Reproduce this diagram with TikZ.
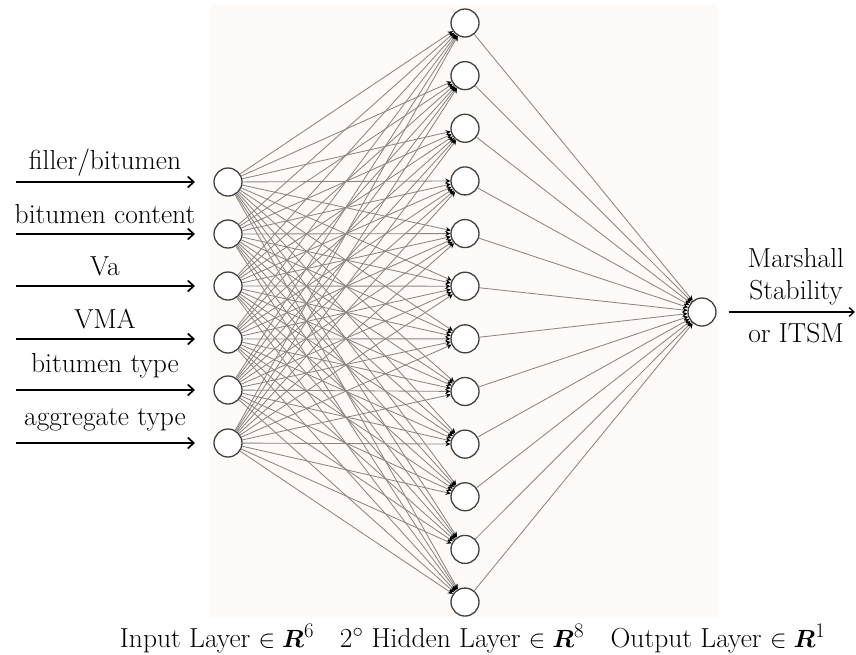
\documentclass[tikz,border=0pt]{standalone}
\usepackage{amsmath,amssymb,bm}
\usetikzlibrary{arrows.meta}
\definecolor{bgc}{HTML}{FDFAF8}
\definecolor{edgec}{HTML}{8C8682}
\begin{document}
\begin{tikzpicture}[x=1pt,y=-1pt,
  neuron/.style={circle,draw=black!75,line width=1.3pt,fill=white,minimum size=28pt,inner sep=0pt},
  edge/.style={draw=edgec,line width=0.85pt,-{Stealth[black,length=5pt,width=5pt]}},
  inarrow/.style={line width=1.7pt,-{Straight Barb[length=6pt,width=11pt,line width=1.7pt]}},
  lbl/.style={font=\fontsize{27.5}{32}\selectfont,inner sep=0pt,anchor=base}]
\useasboundingbox (0,0) rectangle (856,654);
\fill[bgc] (210,5) rectangle (718,618);
% input nodes
\foreach \i/\y in {1/182,2/234,3/286,4/339,5/390,6/443}{
  \node[neuron] (in\i) at (228,\y) {};
}
% hidden nodes
\foreach \j in {1,...,12}{
  \node[neuron] (h\j) at (465,{23+52.64*(\j-1)}) {};
}
% output node
\node[neuron] (out) at (702,312) {};
% edges
\foreach \i in {1,...,6}{
  \foreach \j in {1,...,12}{
    \draw[edge] (in\i) -- (h\j);
  }
}
\foreach \j in {1,...,12}{
  \draw[edge] (h\j) -- (out);
}
% input arrows and labels
\foreach \i/\y/\b/\t in {1/182/169/filler\slash bitumen,2/234/223/bitumen content,3/286/275/Va,4/339/328/VMA,5/390/372/bitumen type,6/443/425/aggregate type}{
  \coordinate (s\i) at (16,\y);
  \coordinate (e\i) at (195,\y);
  \draw[inarrow] (s\i) -- (e\i);
  \node[lbl] (t\i) at (105,\b) {\t};
}
% output arrow
\coordinate (oe) at (855,312);
\draw[line width=1.3pt,-{Straight Barb[length=5pt,width=9pt,line width=1.3pt]}] ([xshift=12pt]out.east) -- (oe);
\node[lbl] (o1) at (796,267) {Marshall};
\node[lbl] (o2) at (796,299) {Stability};
\node[lbl] (o3) at (796,342) {or ITSM};
% bottom labels
\node[lbl] (b1) at (217,647) {Input Layer $\in \boldsymbol{R}^6$};
\node[lbl] (b2) at (462,647) {2$^\circ$ Hidden Layer $\in \boldsymbol{R}^8$};
\node[lbl] (b3) at (718,647) {Output Layer $\in \boldsymbol{R}^1$};
\end{tikzpicture}
\end{document}
